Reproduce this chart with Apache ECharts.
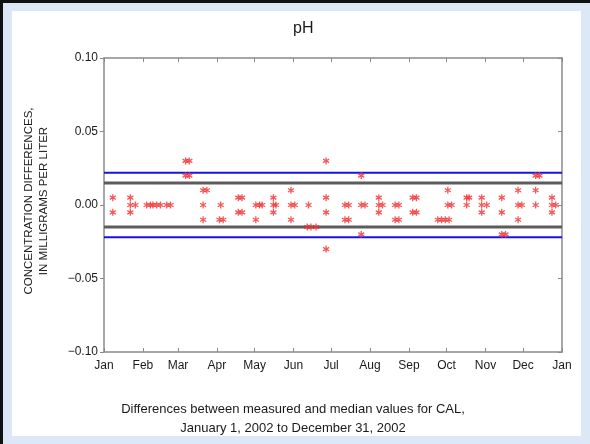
<!DOCTYPE html>
<html>
<head>
<meta charset="utf-8">
<script src="https://cdn.jsdelivr.net/npm/echarts@6/dist/echarts.min.js"></script>
<style>
	html, body { margin: 0; padding: 0; }
	#main { width: 590px; height: 444px; }
</style>
</head>
<body>
<div id="main"></div>
<script>
// pH 差值散点图
var monthNames = ['Jan', 'Feb', 'Mar', 'Apr', 'May', 'Jun', 'Jul', 'Aug', 'Sep', 'Oct', 'Nov', 'Dec'];

// 取样日期（每个点一个）
var sampleDates = [
	'2002-01-08', '2002-01-08',
	'2002-01-22', '2002-01-22', '2002-01-22', '2002-01-26',
	'2002-02-04', '2002-02-07', '2002-02-09', '2002-02-12', '2002-02-15', '2002-02-20', '2002-02-23',
	'2002-03-07', '2002-03-07', '2002-03-10', '2002-03-10',
	'2002-03-21', '2002-03-21', '2002-03-21', '2002-03-24',
	'2002-04-03', '2002-04-04', '2002-04-06',
	'2002-04-18', '2002-04-18', '2002-04-21', '2002-04-21',
	'2002-05-02', '2002-05-02', '2002-05-05', '2002-05-07',
	'2002-05-16', '2002-05-16', '2002-05-16', '2002-05-18',
	'2002-05-30', '2002-05-30', '2002-05-30', '2002-06-02',
	'2002-06-12', '2002-06-13', '2002-06-15', '2002-06-19',
	'2002-06-27', '2002-06-27', '2002-06-27', '2002-06-27',
	'2002-07-12', '2002-07-12', '2002-07-15', '2002-07-15',
	'2002-07-25', '2002-07-25', '2002-07-25', '2002-07-28',
	'2002-08-08', '2002-08-08', '2002-08-08', '2002-08-11',
	'2002-08-21', '2002-08-21', '2002-08-24', '2002-08-24',
	'2002-09-04', '2002-09-04', '2002-09-07', '2002-09-07',
	'2002-09-24', '2002-09-27', '2002-09-30',
	'2002-10-02', '2002-10-02', '2002-10-03', '2002-10-05',
	'2002-10-17', '2002-10-17', '2002-10-19',
	'2002-10-29', '2002-10-29', '2002-10-29', '2002-11-02',
	'2002-11-14', '2002-11-14', '2002-11-14', '2002-11-17',
	'2002-11-27', '2002-11-27', '2002-11-27', '2002-11-30',
	'2002-12-11', '2002-12-11', '2002-12-11', '2002-12-14',
	'2002-12-24', '2002-12-24', '2002-12-24', '2002-12-27'
];
// 与中位数的差值
var diffValues = [
	0.005, -0.005,
	0.005, 0, -0.005, 0,
	0, 0, 0, 0, 0, 0, 0,
	0.03, 0.02, 0.03, 0.02,
	0.01, 0, -0.01, 0.01,
	-0.01, 0, -0.01,
	0.005, -0.005, 0.005, -0.005,
	0, -0.01, 0, 0,
	0.005, 0, -0.005, 0,
	0.01, 0, -0.01, 0,
	-0.015, 0, -0.015, -0.015,
	0.03, 0.005, -0.005, -0.03,
	0, -0.01, 0, -0.01,
	0.02, 0, -0.02, 0,
	0.005, 0, -0.005, 0,
	0, -0.01, 0, -0.01,
	0.005, -0.005, 0.005, -0.005,
	-0.01, -0.01, -0.01,
	0.01, 0, -0.01, 0,
	0.005, 0, 0.005,
	0.005, 0, -0.005, 0,
	0.005, -0.005, -0.02, -0.02,
	0.01, 0, -0.01, 0,
	0.02, 0.01, 0, 0.02,
	0.005, 0, -0.005, 0
];
// 控制线
var lineEnds = ['2002-01-01 00:00:00', '2003-01-01 00:00:00'];
var innerLimits = [0.015, -0.015];
var outerLimits = [0.022, -0.022];

var chartFont = "'Liberation Sans', Arial, sans-serif";
var textColor = '#1a1a1a';
var axisColor = '#8a8a8a';

var points = [];
for (var i = 0; i < sampleDates.length; i++) {
	points.push([sampleDates[i], diffValues[i]]);
}

function limitSeries(val, color, width) {
	return {
		type: 'line',
		xAxisIndex: 0,
		yAxisIndex: 0,
		data: [[lineEnds[0], val], [lineEnds[1], val]],
		symbol: 'none',
		silent: true,
		lineStyle: { color: color, width: width },
		z: 2
	};
}

function fmtY(v) {
	var s = Math.abs(v).toFixed(2);
	return v < -1e-9 ? '\u2212' + s : s;
}
function fmtMonth(v) {
	return monthNames[new Date(v).getMonth()];
}

var xCommon = {
	type: 'time',
	min: lineEnds[0],
	max: lineEnds[1],
	splitNumber: 12,
	minInterval: 28 * 86400000,
	maxInterval: 31 * 86400000,
	axisLine: { show: true, onZero: false, lineStyle: { color: axisColor, width: 1.5 } },
	splitLine: { show: false },
	axisTick: { show: true, inside: true, length: 4, lineStyle: { color: axisColor } },
	minorTick: { show: false }
};

var series = [];
for (var j = 0; j < innerLimits.length; j++) {
	series.push(limitSeries(innerLimits[j], '#5c5c5c', 3));
}
for (var k = 0; k < outerLimits.length; k++) {
	series.push(limitSeries(outerLimits[k], '#1414e6', 2));
}
series.push({
	type: 'scatter',
	xAxisIndex: 0,
	yAxisIndex: 0,
	data: points,
	symbol: 'path://M0,-5L0,5M-4.33,-2.5L4.33,2.5M-4.33,2.5L4.33,-2.5',
	symbolSize: 7,
	symbolKeepAspect: true,
	itemStyle: { color: '#f03030', borderColor: '#f03030', borderWidth: 1.3 },
	z: 3
});

var myChart = echarts.init(document.getElementById('main'));
var option = {
	backgroundColor: '#dce8f5',
	animation: false,
	textStyle: { fontFamily: chartFont },
	title: {
		text: 'pH',
		left: 288,
		top: 16,
		textStyle: { fontFamily: chartFont, fontSize: 16, fontWeight: 'normal', color: textColor }
	},
	graphic: [
		{ type: 'rect', z: -100, shape: { x: 0, y: 0, width: 590, height: 3 }, style: { fill: '#111' } },
		{ type: 'rect', z: -100, shape: { x: 0, y: 0, width: 3, height: 444 }, style: { fill: '#111' } },
		{ type: 'rect', z: -100, shape: { x: 12, y: 11, width: 569, height: 425 }, style: { fill: '#ffffff' } },
		{
			type: 'text', x: 36, y: 201, rotation: Math.PI / 2,
			style: {
				text: 'CONCENTRATION DIFFERENCES,\nIN MILLIGRAMS PER LITER',
				fontFamily: chartFont, fontSize: 11.5, fill: textColor,
				textAlign: 'center', textVerticalAlign: 'middle', lineHeight: 15
			}
		},
		{
			type: 'text', x: 293, y: 419,
			style: {
				text: 'Differences between measured and median values for CAL,\nJanuary 1, 2002 to December 31, 2002',
				fontFamily: chartFont, fontSize: 13, fill: textColor,
				textAlign: 'center', textVerticalAlign: 'middle', lineHeight: 19
			}
		}
	],
	grid: { left: 104, right: 28, top: 58, bottom: 92 },
	xAxis: [
		echarts.util.merge({
			position: 'bottom',
			axisLabel: {
				show: true, showMinLabel: true, showMaxLabel: true,
				formatter: fmtMonth, color: textColor, fontSize: 12, margin: 8
			}
		}, xCommon, true),
		echarts.util.merge({
			position: 'top',
			axisLabel: { show: false }
		}, xCommon, true)
	],
	yAxis: [
		{
			type: 'value', position: 'left',
			min: -0.1, max: 0.1, interval: 0.05,
			axisLine: { show: true, onZero: false, lineStyle: { color: axisColor, width: 1.5 } },
			axisTick: { show: true, inside: false, length: 4, lineStyle: { color: axisColor } },
			splitLine: { show: false },
			axisLabel: { formatter: fmtY, color: textColor, fontSize: 12, margin: 6 }
		},
		{
			type: 'value', position: 'right',
			min: -0.1, max: 0.1, interval: 0.05,
			axisLine: { show: true, onZero: false, lineStyle: { color: axisColor, width: 1.5 } },
			axisTick: { show: true, inside: true, length: 4, lineStyle: { color: axisColor } },
			splitLine: { show: false },
			axisLabel: { show: false }
		}
	],
	series: series
};
myChart.setOption(option);
</script>
</body>
</html>
